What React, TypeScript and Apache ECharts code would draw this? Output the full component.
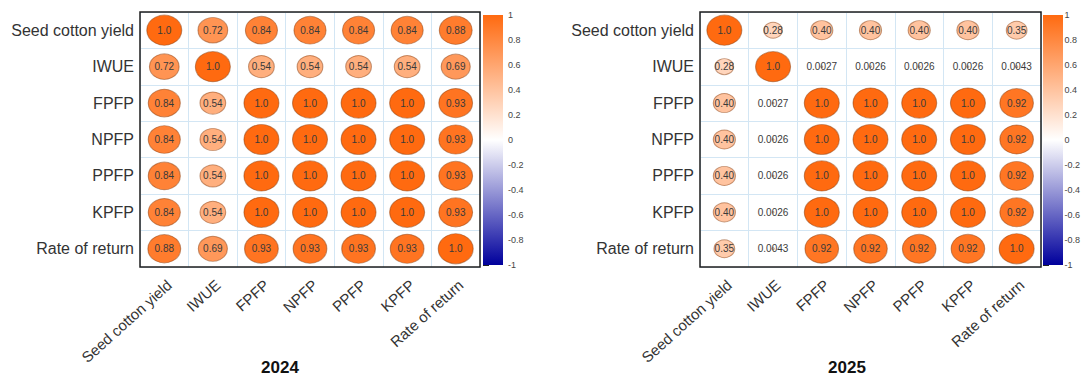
import React, { useEffect, useRef } from "react";
import * as echarts from "echarts";

const CATS = ["Seed cotton yield", "IWUE", "FPFP", "NPFP", "PPFP", "KPFP", "Rate of return"];

const R2024_SCY = [1.0, 0.72, 0.84, 0.84, 0.84, 0.84, 0.88];
const R2024_IWUE = [0.72, 1.0, 0.54, 0.54, 0.54, 0.54, 0.69];
const R2024_FPFP = [0.84, 0.54, 1.0, 1.0, 1.0, 1.0, 0.93];
const R2024_NPFP = [0.84, 0.54, 1.0, 1.0, 1.0, 1.0, 0.93];
const R2024_PPFP = [0.84, 0.54, 1.0, 1.0, 1.0, 1.0, 0.93];
const R2024_KPFP = [0.84, 0.54, 1.0, 1.0, 1.0, 1.0, 0.93];
const R2024_ROR = [0.88, 0.69, 0.93, 0.93, 0.93, 0.93, 1.0];

const R2025_SCY = [1.0, 0.28, 0.4, 0.4, 0.4, 0.4, 0.35];
const R2025_IWUE = [0.28, 1.0, 0.0027, 0.0026, 0.0026, 0.0026, 0.0043];
const R2025_FPFP = [0.4, 0.0027, 1.0, 1.0, 1.0, 1.0, 0.92];
const R2025_NPFP = [0.4, 0.0026, 1.0, 1.0, 1.0, 1.0, 0.92];
const R2025_PPFP = [0.4, 0.0026, 1.0, 1.0, 1.0, 1.0, 0.92];
const R2025_KPFP = [0.4, 0.0026, 1.0, 1.0, 1.0, 1.0, 0.92];
const R2025_ROR = [0.35, 0.0043, 0.92, 0.92, 0.92, 0.92, 1.0];

const M2024 = [R2024_SCY, R2024_IWUE, R2024_FPFP, R2024_NPFP, R2024_PPFP, R2024_KPFP, R2024_ROR];
const M2025 = [R2025_SCY, R2025_IWUE, R2025_FPFP, R2025_NPFP, R2025_PPFP, R2025_KPFP, R2025_ROR];
const TITLES = ["2024", "2025"];

const ORANGE = "#FF6A10";
const WHITE = "#FFFFFF";
const BLUE = "#00009C";
const FONT = "Arial, 'Liberation Sans', sans-serif";

function fmt(v: number): string {
  const a = Math.abs(v);
  if (a === 1) return v.toFixed(1);
  if (a < 0.01) return v.toPrecision(2);
  return v.toFixed(2);
}

function toData(m: number[][]) {
  const out: number[][] = [];
  m.forEach((row, i) => row.forEach((v, j) => out.push([j, i, v])));
  return out;
}

export default function App() {
  const ref = useRef<HTMLDivElement>(null);
  useEffect(() => {
    if (!ref.current) return;
    const chart = echarts.init(ref.current, null, { renderer: "svg" });
    const panels = [
      { left: 140, width: 340, cb: 483, title: 280, mat: M2024 },
      { left: 700, width: 341, cb: 1043, title: 847, mat: M2025 },
    ];
    const grids: any[] = [];
    const xAxes: any[] = [];
    const yAxes: any[] = [];
    const series: any[] = [];
    const graphics: any[] = [];
    panels.forEach((p, k) => {
      const gi = grids.length;
      grids.push({
        left: p.left, top: 12, width: p.width, height: 255,
        show: true, borderColor: "#1e1e1e", borderWidth: 1.5, backgroundColor: "transparent", z: 3,
      });
      xAxes.push({
        type: "category", gridIndex: gi, data: CATS, position: "bottom",
        axisLine: { show: false }, axisTick: { show: false },
        splitLine: { show: true, lineStyle: { color: "#d3e6f4", width: 1 } },
        axisLabel: {
          rotate: 42, interval: 0, margin: 10, fontSize: 15, color: "#333", fontFamily: FONT,
          align: "right", verticalAlign: "top",
        },
      });
      yAxes.push({
        type: "category", gridIndex: gi, data: CATS, inverse: true,
        axisLine: { show: false }, axisTick: { show: false },
        splitLine: { show: true, lineStyle: { color: "#d3e6f4", width: 1 } },
        axisLabel: { interval: 0, margin: 6, fontSize: 16, color: "#333", fontFamily: FONT },
      });
      series.push({
        type: "scatter", xAxisIndex: gi, yAxisIndex: gi,
        data: toData(p.mat),
        symbol: "circle",
        symbolSize: (val: number[]) => {
          const s = Math.sqrt(Math.abs(val[2]));
          return [35 * s, 30 * s];
        },
        itemStyle: { borderColor: "rgba(140,60,10,0.5)", borderWidth: 1, opacity: 1 },
        label: {
          show: true, position: "inside",
          formatter: (q: any) => fmt(q.value[2]),
          fontSize: 10, color: "#3a3a3a", fontFamily: FONT,
        },
        z: 2,
      });
      // colorbar
      const ci = grids.length;
      grids.push({ left: p.cb, top: 15, width: 20, height: 250, show: false });
      xAxes.push({ type: "value", gridIndex: ci, show: false, min: 0, max: 1 });
      yAxes.push({
        type: "value", gridIndex: ci, min: -1, max: 1, interval: 0.2, position: "right",
        axisLine: { show: false },
        axisTick: { show: true, length: 6, lineStyle: { color: "#222", width: 1 } },
        splitLine: { show: false },
        axisLabel: { fontSize: 9, color: "#444", margin: 5, fontFamily: FONT },
      });
      graphics.push({
        type: "rect", z: 1,
        shape: { x: p.cb, y: 15, width: 20, height: 250 },
        style: {
          fill: new echarts.graphic.LinearGradient(0, 0, 0, 1, [
            { offset: 0, color: ORANGE },
            { offset: 0.5, color: WHITE },
            { offset: 1, color: BLUE },
          ]),
        },
      });
      graphics.push({
        type: "text", x: p.title, y: 367,
        style: {
          text: TITLES[k], align: "center", verticalAlign: "middle",
          font: `bold 17px ${FONT}`, fill: "#111",
        },
      });
    });

    chart.setOption({
      animation: false,
      backgroundColor: "#fff",
      grid: grids,
      xAxis: xAxes,
      yAxis: yAxes,
      visualMap: {
        show: false, type: "continuous", min: -1, max: 1, dimension: 2, seriesIndex: [0, 1],
        inRange: { color: [BLUE, WHITE, ORANGE] },
      },
      series,
      graphic: graphics,
    });
    return () => chart.dispose();
  }, []);
  return (
    <div
      ref={ref}
      style={{ position: "fixed", left: 0, top: 0, width: 1083, height: 379 }}
    />
  );
}
